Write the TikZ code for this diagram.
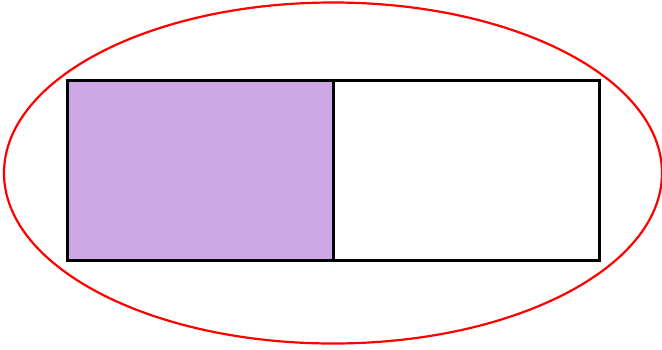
\documentclass[tikz,border=0pt]{standalone}
\usetikzlibrary{shapes.geometric}
\definecolor{lav}{HTML}{CDA8E4}
\tikzset{
  half/.style={draw=black, line width=3pt, rectangle, inner sep=0pt, minimum width=266, minimum height=180, anchor=center},
  ring/.style={draw=red, line width=2.2pt, ellipse, inner sep=0pt, minimum width=658, minimum height=341}
}
\begin{document}
\begin{tikzpicture}[x=1pt,y=-1pt]
\useasboundingbox (0,0) rectangle (662,349);
\node[ring] (oval) at (333,173) {};
\node[half, fill=lav] (left) at (200,170) {};
\node[half] (right) at (466,170) {};
\end{tikzpicture}
\end{document}
